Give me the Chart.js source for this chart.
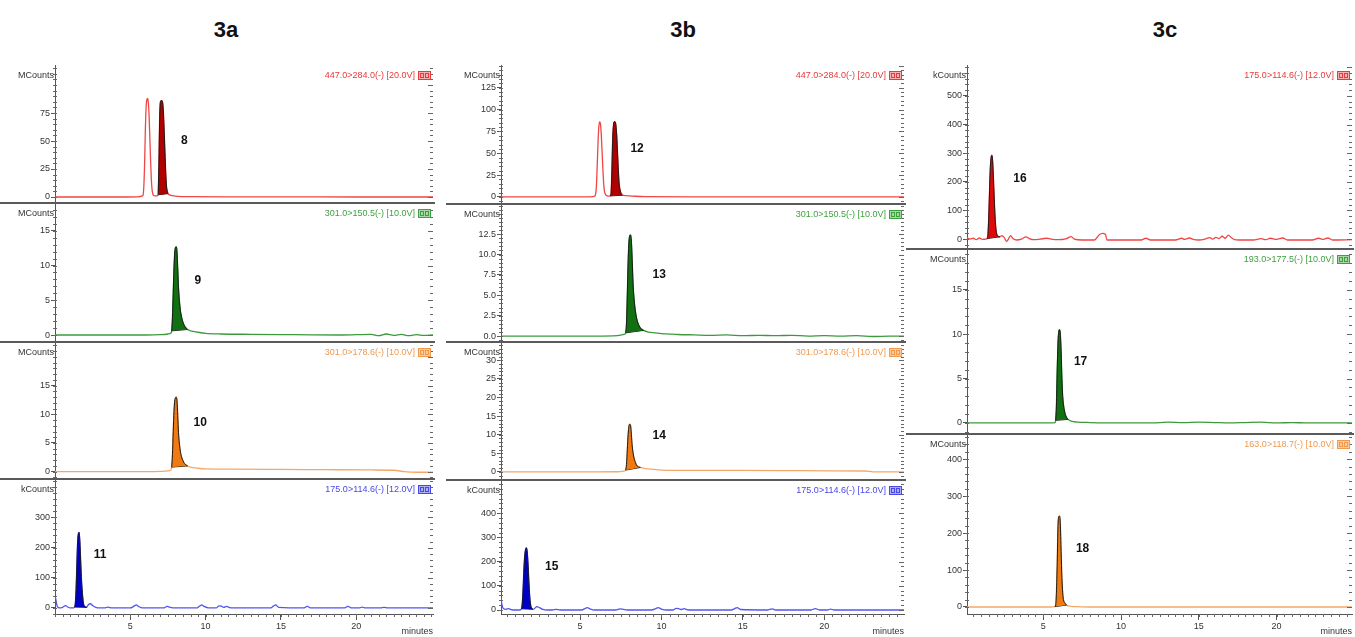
<!DOCTYPE html>
<html>
<head>
<meta charset="utf-8">
<script src="https://cdn.jsdelivr.net/npm/chart.js@4.4.1/dist/chart.umd.min.js"></script>
<style>
  body { margin: 0; background: #fff; width: 1355px; height: 637px; overflow: hidden; position: relative; font-family: Arial, "Liberation Sans", sans-serif; }
  .fig-title { position: absolute; top: 17px; width: 80px; text-align: center; font-weight: bold; font-size: 22px; color: #111; }
  canvas { position: absolute; }
</style>
</head>
<body>
<div class="fig-title" style="left:186px">3a</div>
<div class="fig-title" style="left:643px">3b</div>
<div class="fig-title" style="left:1125px">3c</div>
<script>
// ---- data: [minutes, counts] ----
const a1Trace = [[0,0],[2,0],[4,0],[5.5,0.2],[5.8,1],[5.85,2],[5.9,10],[5.95,30],[6.0,60],[6.05,80],[6.1,87],[6.15,88],[6.2,84],[6.25,72],[6.3,52],[6.35,32],[6.4,15],[6.45,6],[6.5,2.5],[6.6,1],[6.75,1],[6.85,2],[6.9,30],[6.95,70],[7.0,85],[7.05,86],[7.1,86],[7.15,84],[7.2,75],[7.25,58],[7.3,40],[7.35,22],[7.4,10],[7.5,3],[7.7,1.5],[8.0,0.8],[9,0.3],[12,0.2],[16,0.1],[20,0],[25.1,0]];
const a2Trace = [[0,0],[3,0],[6,0],[7.0,0.05],[7.5,0.15],[7.7,0.3],[7.75,0.6],[7.8,2.5],[7.85,6],[7.9,9.5],[7.95,11.8],[8.0,12.6],[8.05,12.7],[8.1,12],[8.15,9.5],[8.2,6.8],[8.3,4],[8.4,2.6],[8.5,1.8],[8.6,1.3],[8.8,0.8],[9.0,0.6],[9.5,0.4],[10,0.25],[11,0.15],[13,0.1],[16,0.05],[19,0],[21,0.1],[21.5,-0.1],[22,0.15],[22.5,-0.05],[23,0.1],[23.5,-0.1],[24,0.05],[24.5,-0.05],[25.1,0]];
const a3Trace = [[0,0],[3,0],[6,0],[7.0,0.05],[7.5,0.15],[7.7,0.3],[7.75,0.8],[7.8,3],[7.85,7],[7.9,10.5],[7.95,12.3],[8.0,12.9],[8.05,13],[8.1,12.4],[8.15,9.8],[8.2,6.8],[8.3,4],[8.4,2.6],[8.5,1.9],[8.6,1.4],[8.8,1],[9.0,0.8],[9.5,0.6],[10,0.5],[12,0.45],[15,0.4],[18,0.35],[21,0.3],[22.5,0.25],[23.2,0],[24,-0.1],[25.1,-0.1]];
const a4Trace = [[0,40],[0.05,30],[0.15,5],[0.3,0],[0.5,2],[0.7,8],[0.85,3],[1.0,0],[1.2,0],[1.3,3],[1.35,15],[1.4,60],[1.45,140],[1.5,215],[1.55,245],[1.6,250],[1.65,220],[1.7,160],[1.75,100],[1.8,60],[1.85,30],[1.9,12],[2.0,4],[2.1,2],[2.2,10],[2.35,14],[2.5,8],[2.7,2],[3.0,0],[3.3,0],[3.5,3],[3.8,0],[5.0,0],[5.25,6],[5.4,10],[5.55,5],[5.8,0],[7.2,0],[7.45,5],[7.6,3],[7.9,0],[9.4,0],[9.6,6],[9.75,10],[9.9,5],[10.2,0],[10.7,0],[10.9,7],[11.05,6],[11.2,2],[11.4,5],[11.55,2],[11.8,0],[14.3,0],[14.5,6],[14.65,10],[14.85,2],[16.5,0],[16.75,5],[17.0,0],[19.2,0],[19.45,5],[19.7,0],[20.2,0],[20.4,3],[20.6,0],[21.6,0],[21.85,2],[22.1,0],[25.1,0]];

const b1Trace = [[0.14,0],[3,0],[5.6,0.2],[5.9,1],[5.95,3],[6.0,12],[6.05,35],[6.1,62],[6.15,80],[6.2,86],[6.25,84],[6.3,72],[6.35,52],[6.4,32],[6.45,15],[6.5,6],[6.6,2],[6.75,1],[6.85,1.2],[6.9,4],[6.95,28],[7.0,65],[7.05,82],[7.1,86],[7.15,86],[7.2,82],[7.25,70],[7.3,50],[7.35,30],[7.4,15],[7.5,5],[7.6,2],[7.8,1.5],[8.2,1],[9,0.3],[12,0.1],[18,0],[24.9,0]];
const b2Trace = [[0.14,0],[3,0],[6,0],[7.3,0.05],[7.7,0.2],[7.8,0.4],[7.85,1.5],[7.9,5],[7.95,9],[8.0,11.5],[8.05,12.3],[8.1,12.4],[8.15,11.6],[8.2,9.3],[8.25,6.5],[8.35,3.8],[8.45,2.4],[8.55,1.6],[8.7,1],[8.9,0.7],[9.2,0.5],[9.6,0.4],[10,0.3],[10.5,0.25],[11,0.2],[12,0.15],[13,0.1],[14,0.15],[15,0.05],[16,0.1],[17,0.05],[18,0.1],[19,0],[20,0.05],[21,0],[22,0.05],[23,-0.05],[24,0],[24.9,0]];
const b3Trace = [[0.14,0],[3,0],[6,0],[7.3,0.05],[7.7,0.2],[7.8,0.5],[7.85,2],[7.9,6],[7.95,10],[8.0,12.3],[8.05,12.8],[8.1,12.5],[8.15,10],[8.2,7],[8.3,4],[8.4,2.5],[8.5,1.6],[8.7,1.2],[9,0.9],[9.5,0.7],[10,0.5],[12,0.4],[15,0.4],[18,0.35],[20,0.3],[22.5,0.25],[23,0],[24.9,0]];
const b4Trace = [[0.14,50],[0.2,20],[0.3,5],[0.45,3],[0.6,6],[0.75,2],[1.0,0],[1.3,0],[1.4,5],[1.45,30],[1.5,90],[1.55,170],[1.6,225],[1.65,250],[1.7,257],[1.75,240],[1.8,190],[1.85,120],[1.9,60],[1.95,25],[2.0,10],[2.1,3],[2.2,6],[2.35,14],[2.5,10],[2.7,3],[3.0,0],[3.3,0],[3.5,3],[3.8,0],[5.1,0],[5.3,6],[5.45,10],[5.6,5],[5.9,0],[7.2,0],[7.45,5],[7.65,3],[7.9,0],[9.4,0],[9.65,6],[9.8,10],[10.0,4],[10.3,0],[10.7,0],[10.9,7],[11.05,6],[11.2,2],[11.4,6],[11.55,2],[11.8,0],[14.3,0],[14.5,6],[14.65,10],[14.85,2],[16.5,0],[16.8,5],[17.0,0],[19.2,0],[19.45,6],[19.7,0],[20.2,0],[20.4,4],[20.6,0],[24.9,0]];

const c1Trace = [[0.1,5],[0.3,0],[0.5,3],[0.7,-2],[0.9,4],[1.1,-1],[1.3,0],[1.4,2],[1.45,20],[1.5,80],[1.55,170],[1.6,250],[1.65,285],[1.7,293],[1.75,270],[1.8,210],[1.85,140],[1.9,80],[1.95,40],[2.0,20],[2.1,10],[2.2,8],[2.35,12],[2.5,5],[2.65,-8],[2.8,4],[2.9,12],[3.05,2],[3.3,-3],[3.6,0],[3.9,8],[4.1,2],[4.4,-2],[4.8,0],[5.2,3],[5.5,0],[6.0,-2],[6.5,2],[6.8,9],[7.0,0],[7.5,-3],[8.3,-3],[8.6,15],[8.8,20],[9.0,16],[9.1,-3],[10,-3],[11.3,-3],[11.6,3],[11.9,-3],[13.5,-3],[13.9,3],[14.1,-1],[14.4,4],[14.7,-2],[15.0,-3],[15.4,0],[15.7,5],[15.9,0],[16.1,6],[16.3,2],[16.5,10],[16.7,3],[16.9,14],[17.1,5],[17.3,-2],[17.6,-3],[18.5,-3],[19.0,2],[19.3,-2],[19.6,3],[20.0,-1],[20.4,4],[20.7,-3],[22.3,-3],[22.7,3],[23.0,-1],[23.3,4],[23.6,-3],[24.85,-2]];
const c2Trace = [[0.1,0],[3,0],[5.5,0],[5.75,0.05],[5.8,0.3],[5.85,2],[5.9,6],[5.95,9],[6.0,10.3],[6.05,10.5],[6.1,10],[6.15,8],[6.2,5],[6.25,3],[6.35,1.5],[6.45,0.8],[6.6,0.4],[6.8,0.2],[7.2,0.1],[8,0.05],[10,0],[12,0],[13,0.1],[14,0.05],[15,0.1],[16,0.05],[17,0],[18,0.05],[19,0.1],[20,0],[21,0.05],[22,0],[24.85,0]];
const c3Trace = [[0.1,0],[3,0],[5.5,0],[5.75,1],[5.8,5],[5.85,40],[5.9,120],[5.95,220],[6.0,245],[6.05,246],[6.1,225],[6.15,150],[6.2,80],[6.25,40],[6.3,20],[6.4,10],[6.5,5],[6.7,2],[7.0,1],[8,0],[24.85,0]];

// integration windows of the numbered peaks (minutes)
const a1Window = [6.85, 7.5], a2Window = [7.75, 8.8], a3Window = [7.75, 8.8], a4Window = [1.3, 2.1];
const b1Window = [6.85, 7.6], b2Window = [7.8, 8.9], b3Window = [7.8, 8.7], b4Window = [1.4, 2.1];
const c1Window = [1.4, 2.2], c2Window = [5.8, 6.6], c3Window = [5.75, 6.5];

// tick labels
const timeTicks = [5, 10, 15, 20];
const a1Ticks = [0, 25, 50, 75], a2Ticks = [0, 5, 10, 15], a3Ticks = [0, 5, 10, 15], a4Ticks = [0, 100, 200, 300];
const b1Ticks = [0, 25, 50, 75, 100, 125], b2Ticks = [0, 2.5, 5, 7.5, 10, 12.5], b3Ticks = [0, 5, 10, 15, 20, 25, 30], b4Ticks = [0, 100, 200, 300, 400];
const c1Ticks = [0, 100, 200, 300, 400, 500], c2Ticks = [0, 5, 10, 15], c3Ticks = [0, 100, 200, 300, 400];

// ---- layout ----
const columns = {
  a: { left: 0, right: 440, axisLeft: 55, axisRight: 433, xMin: 0, xMax: 25.1 },
  b: { left: 446, right: 910, axisLeft: 501, axisRight: 904, xMin: 0.14, xMax: 24.9 },
  c: { left: 906, right: 1355, axisLeft: 967, axisRight: 1352, xMin: 0.1, xMax: 24.85 }
};

const hues = {
  red:    { line: '#f04646', text: '#e83a3a', box: '#f8b0b0' },
  green:  { line: '#3c9a3c', text: '#40a040', box: '#a8d8a8' },
  orange: { line: '#f4a868', text: '#f09a50', box: '#f8cc9c' },
  blue:   { line: '#5454f0', text: '#4848e8', box: '#b0b0f4' }
};

const panels = [
  { col: 'a', top: 65,  bottom: 202, yMin: -4.46, yMax: 117.9, trace: a1Trace, win: a1Window, ticks: a1Ticks, unit: 'MCounts', mrm: '447.0>284.0(-) [20.0V]', hue: 'red',    fill: '#b00000', peak: '8',  at: [8.58, 50] },
  { col: 'a', top: 203, bottom: 341, yMin: -0.86, yMax: 19.0,  trace: a2Trace, win: a2Window, ticks: a2Ticks, unit: 'MCounts', mrm: '301.0>150.5(-) [10.0V]', hue: 'green',  fill: '#127012', peak: '9',  at: [9.49, 7.8] },
  { col: 'a', top: 342, bottom: 478, yMin: -1.1,  yMax: 22.6,  trace: a3Trace, win: a3Window, ticks: a3Ticks, unit: 'MCounts', mrm: '301.0>178.6(-) [10.0V]', hue: 'orange', fill: '#f07a12', peak: '10', at: [9.64, 8.55] },
  { col: 'a', top: 479, bottom: 614, yMin: -20,   yMax: 427,   trace: a4Trace, win: a4Window, ticks: a4Ticks, unit: 'kCounts', mrm: '175.0>114.6(-) [12.0V]', hue: 'blue',   fill: '#0000c4', peak: '11', at: [3.0, 175], last: true },

  { col: 'b', top: 65,  bottom: 203, yMin: -6.9,  yMax: 151,   trace: b1Trace, win: b1Window, ticks: b1Ticks, unit: 'MCounts', mrm: '447.0>284.0(-) [20.0V]', hue: 'red',    fill: '#b00000', peak: '12', at: [8.5, 55] },
  { col: 'b', top: 204, bottom: 341, yMin: -0.6,  yMax: 16.2,  trace: b2Trace, win: b2Window, ticks: b2Ticks, unit: 'MCounts', mrm: '301.0>150.5(-) [10.0V]', hue: 'green',  fill: '#127012', peak: '13', at: [9.86, 7.5], decimals: 1 },
  { col: 'b', top: 342, bottom: 479, yMin: -1.9,  yMax: 34.9,  trace: b3Trace, win: b3Window, ticks: b3Ticks, unit: 'MCounts', mrm: '301.0>178.6(-) [10.0V]', hue: 'orange', fill: '#f07a12', peak: '14', at: [9.86, 9.65] },
  { col: 'b', top: 480, bottom: 614, yMin: -16.5, yMax: 537,   trace: b4Trace, win: b4Window, ticks: b4Ticks, unit: 'kCounts', mrm: '175.0>114.6(-) [12.0V]', hue: 'blue',   fill: '#0000c4', peak: '15', at: [3.26, 178], last: true },

  { col: 'c', top: 65,  bottom: 248, yMin: -31,   yMax: 608,   trace: c1Trace, win: c1Window, ticks: c1Ticks, unit: 'kCounts', mrm: '175.0>114.6(-) [12.0V]', hue: 'red',    fill: '#e00808', peak: '16', at: [3.5, 212] },
  { col: 'c', top: 249, bottom: 433, yMin: -1.13, yMax: 19.6,  trace: c2Trace, win: c2Window, ticks: c2Ticks, unit: 'MCounts', mrm: '193.0>177.5(-) [10.0V]', hue: 'green',  fill: '#127012', peak: '17', at: [7.4, 6.9] },
  { col: 'c', top: 434, bottom: 614, yMin: -19,   yMax: 468,   trace: c3Trace, win: c3Window, ticks: c3Ticks, unit: 'MCounts', mrm: '163.0>118.7(-) [10.0V]', hue: 'orange', fill: '#f07a12', peak: '18', at: [7.53, 158], last: true }
];

const tickFont = { family: 'Arial', size: 9 };
const MARGIN = 10;

// minor ticks, right-hand ruler, separators and annotations
const decor = {
  id: 'decor',
  afterDraw(chart, args, o) {
    const ctx = chart.ctx, area = chart.chartArea, xs = chart.scales.x, ys = chart.scales.y;
    const p = o.panel, hue = hues[p.hue];
    ctx.save();
    ctx.strokeStyle = '#666';
    ctx.lineWidth = 1;
    const major = p.ticks[1] - p.ticks[0], minor = major / 5;
    for (let i = Math.ceil(ys.min / minor); i * minor <= ys.max; i++) {
      const py = Math.round(ys.getPixelForValue(i * minor)) + 0.5;
      const isMajor = Math.abs((i * minor) / major - Math.round((i * minor) / major)) < 1e-6;
      ctx.beginPath();
      ctx.moveTo(area.left - 2, py); ctx.lineTo(area.left + 2, py);
      ctx.moveTo(area.right - (isMajor ? 5 : 3), py); ctx.lineTo(area.right, py);
      ctx.stroke();
    }
    if (p.last) {
      for (let i = Math.ceil(xs.min / 0.5); i * 0.5 <= xs.max; i++) {
        const px = Math.round(xs.getPixelForValue(i * 0.5)) + 0.5;
        ctx.beginPath(); ctx.moveTo(px, area.bottom); ctx.lineTo(px, area.bottom + 3); ctx.stroke();
      }
    }
    // panel separator
    if (o.separator) {
      ctx.fillStyle = '#5a5a5a';
      ctx.fillRect(0, area.top - 1, area.right + 2, 2);
    }
    // unit label
    ctx.font = '9px Arial';
    ctx.fillStyle = '#333';
    ctx.textAlign = 'right';
    ctx.textBaseline = 'middle';
    ctx.fillText(p.unit, area.left - 1, area.top + 10.5);
    // transition label + box icon
    ctx.fillStyle = hue.text;
    ctx.fillText(p.mrm, area.right - 18, area.top + 10.5);
    ctx.fillStyle = hue.box;
    ctx.fillRect(area.right - 15, area.top + 6, 13, 9);
    ctx.strokeStyle = hue.text;
    ctx.strokeRect(area.right - 14.5, area.top + 6.5, 12, 8);
    ctx.strokeRect(area.right - 12.5, area.top + 8.5, 3, 4);
    ctx.strokeRect(area.right - 7.5, area.top + 8.5, 3, 4);
    // peak number
    ctx.font = 'bold 12px Arial';
    ctx.fillStyle = '#111';
    ctx.textAlign = 'center';
    ctx.fillText(p.peak, xs.getPixelForValue(p.at[0]), ys.getPixelForValue(p.at[1]));
    ctx.restore();
  }
};

panels.forEach((p, idx) => {
  const col = columns[p.col];
  const first = idx === 0 || panels[idx - 1].col !== p.col;
  const canvasTop = p.top - MARGIN;
  const canvasBottom = p.last ? 637 : p.bottom + MARGIN;
  const w = col.right - col.left, h = canvasBottom - canvasTop;
  const xAxisHeight = 23;

  const canvas = document.createElement('canvas');
  canvas.width = w; canvas.height = h;
  canvas.style.left = col.left + 'px';
  canvas.style.top = canvasTop + 'px';
  canvas.style.width = w + 'px';
  canvas.style.height = h + 'px';
  document.body.appendChild(canvas);

  const hue = hues[p.hue];
  const pts = p.trace.map(d => ({ x: d[0], y: d[1] }));
  const peakPts = p.trace.filter(d => d[0] >= p.win[0] && d[0] <= p.win[1]).map(d => ({ x: d[0], y: d[1] }));
  // straight integration baseline joining the ends of the peak
  const basePts = [peakPts[0], peakPts[peakPts.length - 1]];

  new Chart(canvas, {
    type: 'line',
    data: {
      datasets: [
        { data: peakPts, borderColor: '#1a1a1a', borderWidth: 1, backgroundColor: p.fill, fill: '+1', pointRadius: 0, cubicInterpolationMode: 'monotone' },
        { data: basePts, borderColor: '#1a1a1a', borderWidth: 1, fill: false, pointRadius: 0 },
        { data: pts, borderColor: hue.line, borderWidth: 1.3, fill: false, pointRadius: 0, cubicInterpolationMode: 'monotone' }
      ]
    },
    plugins: [decor],
    options: {
      responsive: false,
      animation: false,
      devicePixelRatio: 1,
      layout: { padding: { left: 0, right: col.right - col.axisRight, top: MARGIN, bottom: p.last ? 0 : MARGIN } },
      plugins: {
        legend: { display: false },
        tooltip: { enabled: false },
        decor: { panel: p, separator: !first }
      },
      scales: {
        x: {
          type: 'linear',
          min: col.xMin,
          max: col.xMax,
          display: !!p.last,
          grid: { drawOnChartArea: false, drawTicks: true, tickLength: 6, color: '#555' },
          border: { display: true, color: '#555', width: 1 },
          ticks: { font: tickFont, color: '#333', padding: 1, maxRotation: 0, autoSkip: false },
          afterBuildTicks: s => { s.ticks = timeTicks.map(v => ({ value: v })); },
          afterFit: s => {
            s.height = p.last ? xAxisHeight : 0;
            s.paddingLeft = 0; s.paddingRight = 0;
          },
          title: { display: true, text: 'minutes', align: 'end', font: tickFont, color: '#333', padding: 0 }
        },
        y: {
          type: 'linear',
          min: p.yMin,
          max: p.yMax,
          grid: { drawOnChartArea: false, drawTicks: true, tickLength: 4, color: '#555' },
          border: { display: true, color: '#555', width: 1 },
          ticks: {
            font: tickFont, color: '#333', padding: 1,
            callback: v => p.decimals ? v.toFixed(p.decimals) : String(v)
          },
          afterBuildTicks: s => { s.ticks = p.ticks.map(v => ({ value: v })); },
          afterFit: s => { s.width = col.axisLeft - col.left; s.paddingTop = 0; s.paddingBottom = 0; }
        }
      }
    }
  });
});
</script>
</body>
</html>
